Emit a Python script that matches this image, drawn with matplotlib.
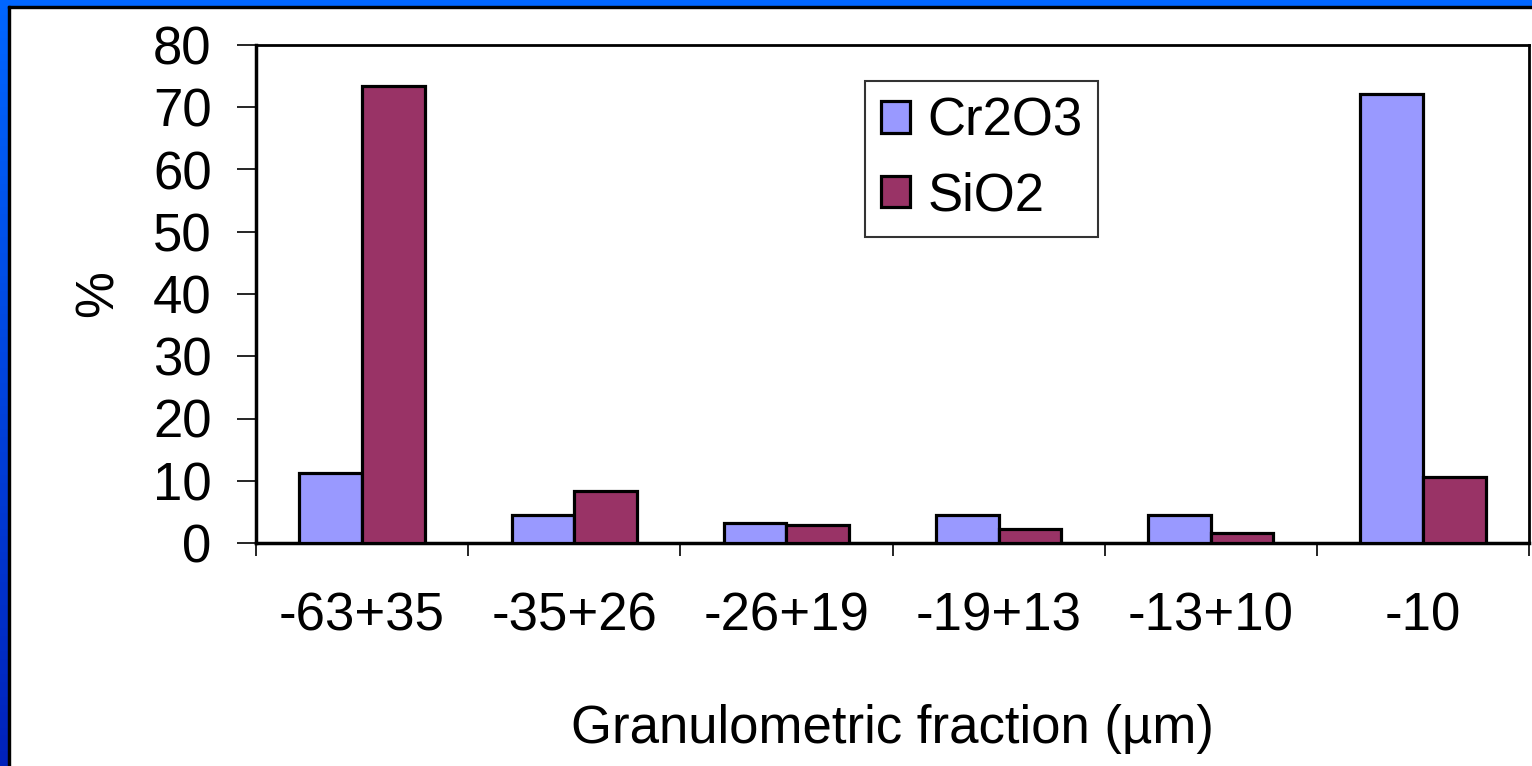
import numpy as np
import matplotlib
matplotlib.use("Agg")
import matplotlib.pyplot as plt
from matplotlib.patches import Rectangle
from matplotlib.colors import LinearSegmentedColormap

plt.rcParams['font.family'] = ['Liberation Sans', 'DejaVu Sans']

categories = ['-63+35', '-35+26', '-26+19', '-19+13', '-13+10', '-10']
cr2o3 = [11.2, 4.5, 3.2, 4.5, 4.5, 72.1]
sio2 = [73.4, 8.4, 2.9, 2.3, 1.6, 10.6]

W, H = 1532, 766
fig = plt.figure(figsize=(W / 100, H / 100), dpi=100)
fig.patch.set_facecolor('white')

# blue slide frame: left strip (gradient) and top strip
grad = LinearSegmentedColormap.from_list('g', ['#0066ff', '#0022bb'])
lax = fig.add_axes([0, 0, 8 / W, 1])
lax.imshow(np.linspace(0, 1, 100).reshape(-1, 1), aspect='auto', cmap=grad)
lax.axis('off')
fig.patches.append(Rectangle((0, 1 - 6 / H), 1, 6 / H, transform=fig.transFigure,
                             color='#0066ff', zorder=5))
fig.patches.append(Rectangle((8 / W, 0), 2 / W, 1 - 6 / H, transform=fig.transFigure,
                             color='black', zorder=5))
fig.patches.append(Rectangle((8 / W, 1 - 8 / H), 1, 2 / H, transform=fig.transFigure,
                             color='black', zorder=5))

ax = fig.add_axes([256 / W, 1 - 543 / H, (1529 - 256) / W, (543 - 45) / H])

x = np.arange(len(categories))
bw = 0.295
ax.bar(x - bw / 2, cr2o3, bw, color='#9999ff', edgecolor='black', linewidth=2.3,
       label='Cr2O3', zorder=3)
ax.bar(x + bw / 2, sio2, bw, color='#993366', edgecolor='black', linewidth=2.3,
       label='SiO2', zorder=3)

ax.set_xlim(-0.5, len(categories) - 0.5)
ax.set_ylim(0, 80)
ax.set_yticks(range(0, 81, 10))
ax.tick_params(axis='y', labelsize=38, length=14, width=1.2, pad=18, direction='out')

ax.set_xticks(x)
ax.set_xticklabels(categories)
ax.set_xticks(np.arange(-0.5, len(categories), 1), minor=True)
ax.tick_params(axis='x', which='major', length=0, labelsize=38, pad=35)
ax.tick_params(axis='x', which='minor', length=9, width=1.2, direction='out')

for s in ['left', 'bottom']:
    ax.spines[s].set_linewidth(2.5)
for s in ['top', 'right']:
    ax.spines[s].set_linewidth(2)

ax.set_ylabel('%', fontsize=38, labelpad=21)
ax.set_xlabel('Granulometric fraction (µm)', fontsize=38, labelpad=45)

leg = ax.legend(loc='upper left', bbox_to_anchor=((865 - 256) / (1529 - 256), 1 - (81 - 45) / 498),
                fontsize=38, frameon=True, fancybox=False, edgecolor='black',
                handlelength=0.55, handleheight=0.55, handletextpad=0.33,
                borderpad=0.3, labelspacing=0.46, borderaxespad=0)
leg.get_frame().set_linewidth(1.5)

fig.savefig('out.png', dpi=100)
